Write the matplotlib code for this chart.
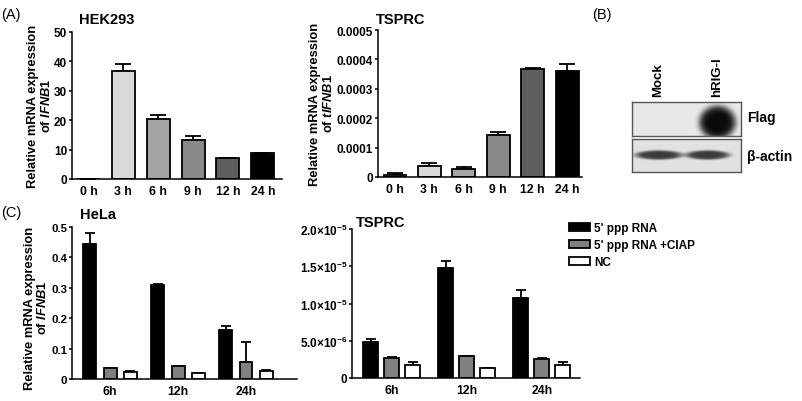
import numpy as np
import matplotlib
matplotlib.use('Agg')
import matplotlib.pyplot as plt
from matplotlib.patches import Patch

plt.rcParams['font.family'] = ['Liberation Sans', 'DejaVu Sans']
plt.rcParams['font.weight'] = 'bold'
plt.rcParams['mathtext.fontset'] = 'custom'
plt.rcParams['mathtext.rm'] = 'Liberation Sans:bold'
plt.rcParams['mathtext.it'] = 'Liberation Sans:italic:bold'
plt.rcParams['mathtext.bf'] = 'Liberation Sans:bold'

# ---- data ----
a_times = ['0 h', '3 h', '6 h', '9 h', '12 h', '24 h']
hek_mean = [0, 36.9, 20.5, 13.3, 7.0, 8.9]
hek_err = [0, 2.2, 1.3, 1.2, 0.2, 0.1]
tsprc_a_mean = [0.000008, 0.000037, 0.000028, 0.000143, 0.000367, 0.000362]
tsprc_a_err = [0.000005, 0.000011, 0.000005, 0.000009, 0.000005, 0.000022]
time_colors = ['#ffffff', '#d9d9d9', '#a3a3a3', '#8a8a8a', '#5e5e5e', '#000000']

c_times = ['6h', '12h', '24h']
c_series = ["5' ppp RNA", "5' ppp RNA +CIAP", 'NC']
c_colors = ['#000000', '#808080', '#ffffff']
hela_mean = [[0.445, 0.31, 0.16], [0.035, 0.042, 0.055], [0.022, 0.019, 0.025]]
hela_err = [[0.035, 0.004, 0.013], [0.002, 0.002, 0.068], [0.003, 0.002, 0.005]]
tsprc_c_mean = [[4.8e-6, 14.8e-6, 10.8e-6], [2.64e-6, 2.9e-6, 2.55e-6], [1.8e-6, 1.3e-6, 1.8e-6]]
tsprc_c_err = [[0.45e-6, 0.85e-6, 1.0e-6], [0.18e-6, 0.05e-6, 0.2e-6], [0.4e-6, 0.02e-6, 0.36e-6]]

hek_ticks = [0, 10, 20, 30, 40, 50]
tsprc_a_ticks = [0, 0.0001, 0.0002, 0.0003, 0.0004, 0.0005]
tsprc_a_ticklabels = ['0', '0.0001', '0.0002', '0.0003', '0.0004', '0.0005']
hela_ticks = [0, 0.1, 0.2, 0.3, 0.4, 0.5]
hela_ticklabels = ['0', '0.1', '0.2', '0.3', '0.4', '0.5']
tsprc_c_ticks = [0, 5e-6, 1e-5, 1.5e-5, 2e-5]
tsprc_c_ticklabels = ['0', r'5.0$\times$10$^{-6}$', r'1.0$\times$10$^{-5}$',
                      r'1.5$\times$10$^{-5}$', r'2.0$\times$10$^{-5}$']

blot_lanes = ['Mock', 'hRIG-I']
flag_level = [0.0, 1.0]
actin_level = [0.85, 0.85]

W, H = 802, 402
fig = plt.figure(figsize=(W / 100, H / 100), dpi=100)


def px_axes(x0, y0, x1, y1):
    return fig.add_axes([x0 / W, 1 - y1 / H, (x1 - x0) / W, (y1 - y0) / H])


def style(ax, ticks, labels=None, ysize=8.5):
    for s in ['top', 'right']:
        ax.spines[s].set_visible(False)
    for s in ['left', 'bottom']:
        ax.spines[s].set_linewidth(1.1)
    ax.set_yticks(ticks)
    if labels is not None:
        ax.set_yticklabels(labels)
    ax.tick_params(axis='y', length=2.5, width=1.1, labelsize=ysize, pad=1)
    ax.tick_params(axis='x', length=0, labelsize=8.8, pad=4)
    for t in ax.get_xticklabels() + ax.get_yticklabels():
        t.set_fontweight('bold')


def ylab(x1, x2, yc, gene):
    # two separate lines, as in the original
    fig.text(x1 / W, 1 - yc / H, 'Relative mRNA expression', rotation=90,
             ha='center', va='center', fontsize=9.3, fontweight='bold')
    fig.text(x2 / W, 1 - yc / H, 'of $\\mathit{' + gene + '}$', rotation=90,
             ha='center', va='center', fontsize=9.3, fontweight='bold')


# ---- (A) HEK293 ----
ax1 = px_axes(72, 33, 282, 180)
x = np.arange(len(a_times))
ax1.bar(x, hek_mean, width=0.66, color=time_colors, edgecolor='black', linewidth=1.3, zorder=2)
ax1.errorbar(x, hek_mean, yerr=[np.zeros(len(x)), hek_err], fmt='none', ecolor='black',
             elinewidth=1.3, capsize=5.5, capthick=1.3, zorder=1)
ax1.set_xlim(-0.47, 5.55)
ax1.set_ylim(0, 50)
ax1.set_xticks(x)
ax1.set_xticklabels(a_times)
style(ax1, hek_ticks)
ylab(33, 46, 106, 'IFNB1')
fig.text(79 / W, 1 - 20 / H, 'HEK293', ha='left', va='center', fontsize=10.5, fontweight='bold')

# ---- (A) TSPRC ----
ax2 = px_axes(378, 31, 582, 178)
ax2.bar(x, tsprc_a_mean, width=0.66, color=time_colors, edgecolor='black', linewidth=1.3, zorder=2)
ax2.errorbar(x, tsprc_a_mean, yerr=[np.zeros(len(x)), tsprc_a_err], fmt='none', ecolor='black',
             elinewidth=1.3, capsize=5.5, capthick=1.3, zorder=1)
ax2.set_xlim(-0.49, 5.43)
ax2.set_ylim(0, 0.0005)
ax2.set_xticks(x)
ax2.set_xticklabels(a_times)
style(ax2, tsprc_a_ticks, tsprc_a_ticklabels)
ylab(315, 329, 104, 'tIFNB1')
fig.text(376 / W, 1 - 20 / H, 'TSPRC', ha='left', va='center', fontsize=10.5, fontweight='bold')

# ---- (C) HeLa ----
ax3 = px_axes(72, 228, 297, 380)
g = np.arange(len(c_times))
for i in range(3):
    ax3.bar(g + (i - 1) * 0.3, hela_mean[i], width=0.19, color=c_colors[i],
            edgecolor='black', linewidth=1.3, zorder=2)
    ax3.errorbar(g + (i - 1) * 0.3, hela_mean[i], yerr=[np.zeros(3), hela_err[i]], fmt='none',
                 ecolor='black', elinewidth=1.3, capsize=3.5, capthick=1.3, zorder=1)
ax3.set_xlim(-0.56, 2.75)
ax3.set_ylim(0, 0.5)
ax3.set_xticks(g)
ax3.set_xticklabels(c_times)
style(ax3, hela_ticks, hela_ticklabels, ysize=8.2)
ylab(30, 43, 308, 'IFNB1')
fig.text(80 / W, 1 - 215 / H, 'HeLa', ha='left', va='center', fontsize=10.5, fontweight='bold')

# ---- (C) TSPRC ----
ax4 = px_axes(352, 230, 580, 379)
for i in range(3):
    ax4.bar(g + (i - 1) * 0.28, tsprc_c_mean[i], width=0.2, color=c_colors[i],
            edgecolor='black', linewidth=1.3, zorder=2)
    ax4.errorbar(g + (i - 1) * 0.28, tsprc_c_mean[i], yerr=[np.zeros(3), tsprc_c_err[i]], fmt='none',
                 ecolor='black', elinewidth=1.3, capsize=3.5, capthick=1.3, zorder=1)
ax4.set_xlim(-0.53, 2.51)
ax4.set_ylim(0, 2e-5)
ax4.set_xticks(g)
ax4.set_xticklabels(c_times)
style(ax4, tsprc_c_ticks, tsprc_c_ticklabels)
fig.text(356 / W, 1 - 223 / H, 'TSPRC', ha='left', va='center', fontsize=10.5, fontweight='bold')

handles = [Patch(facecolor=c, edgecolor='black', linewidth=1.3) for c in c_colors]
fig.legend(handles, c_series, loc='upper left', bbox_to_anchor=(569 / W, 1 - 223 / H),
           frameon=False, borderpad=0, borderaxespad=0, handlelength=1.8, handleheight=0.7,
           handletextpad=0.3, labelspacing=0.42, prop={'weight': 'bold', 'size': 8.5})

# ---- (B) western blot ----
def blot(levels, cy, hy, centers, halfw, dark, bg):
    yy, xx = np.mgrid[0:1:120j, 0:1:300j]
    img = np.full(xx.shape, bg)
    for lv, cx, hw in zip(levels, centers, halfw):
        blob = np.exp(-((((xx - cx) / hw) ** 2 + ((yy - cy) / hy) ** 2) ** 3))
        img = img - lv * (bg - dark) * blob
    return np.clip(img, 0, 1)


axf = px_axes(632, 103, 741, 137)
axf.imshow(blot(flag_level, 0.6, 0.5, [0.24, 0.785], [0.16, 0.17], 0.04, 0.91),
           cmap='gray', vmin=0, vmax=1, extent=[0, 1, 0, 1], aspect='auto', interpolation='bilinear')
axa = px_axes(632, 140, 741, 173)
axa.imshow(blot(actin_level, 0.5, 0.14, [0.245, 0.695], [0.22, 0.205], 0.12, 0.88),
           cmap='gray', vmin=0, vmax=1, extent=[0, 1, 0, 1], aspect='auto', interpolation='bilinear')
for a in (axf, axa):
    a.set_xticks([])
    a.set_yticks([])
    for s in a.spines.values():
        s.set_edgecolor('#555555')
        s.set_linewidth(1.0)

for name, xp in zip(blot_lanes, [658, 717]):
    fig.text(xp / W, 1 - 97 / H, name, rotation=90, ha='center', va='bottom',
             fontsize=9.5, fontweight='bold')
fig.text(747 / W, 1 - 118 / H, 'Flag', ha='left', va='center', fontsize=10, fontweight='bold')
fig.text(747 / W, 1 - 157 / H, 'β-actin', ha='left', va='center', fontsize=10, fontweight='bold')

# ---- panel letters ----
fig.text(1 / W, 1 - 15 / H, '(A)', ha='left', va='center', fontsize=10.5, fontweight='normal')
fig.text(592 / W, 1 - 15 / H, '(B)', ha='left', va='center', fontsize=10.5, fontweight='normal')
fig.text(1 / W, 1 - 213 / H, '(C)', ha='left', va='center', fontsize=10.5, fontweight='normal')

fig.savefig('out.png', dpi=100)
